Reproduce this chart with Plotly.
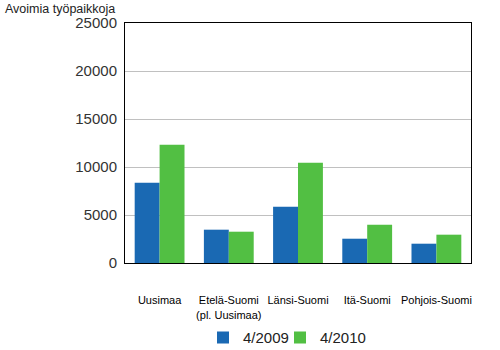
import plotly.graph_objects as go

categories = ["Uusimaa", "Etelä-Suomi<br>(pl. Uusimaa)", "Länsi-Suomi", "Itä-Suomi", "Pohjois-Suomi"]
series_2009 = [8370, 3470, 5870, 2530, 2010]
series_2010 = [12320, 3260, 10450, 3990, 2950]
y_ticks = [0, 5000, 10000, 15000, 20000, 25000]

FONT = "Liberation Sans, Arial, sans-serif"

fig = go.Figure()
fig.add_trace(go.Bar(name="4/2009", x=categories, y=series_2009, legend="legend",
                     marker=dict(color="#1a69b3", line=dict(width=0))))
fig.add_trace(go.Bar(name="4/2010", x=categories, y=series_2010, legend="legend2",
                     marker=dict(color="#52bf43", line=dict(width=0))))

leg_common = dict(orientation="h", xanchor="left", xref="container",
                  y=0.035, yanchor="middle", yref="container",
                  bgcolor="rgba(0,0,0,0)",
                  font=dict(size=15, family=FONT), itemwidth=30)

fig.update_layout(
    width=500, height=350,
    margin=dict(l=125, r=29, t=23, b=87, autoexpand=False),
    paper_bgcolor="white", plot_bgcolor="white",
    barmode="group", bargap=0.28, bargroupgap=0,
    font=dict(family=FONT, color="#222222"),
    showlegend=True,
    legend=dict(x=0.406, **leg_common),
    legend2=dict(x=0.56, **leg_common),
    annotations=[dict(text="Avoimia työpaikkoja", xref="paper", yref="paper",
                      x=-0.353, y=1.06, xanchor="left", yanchor="middle",
                      showarrow=False, font=dict(size=12.5, family=FONT, color="#222222"))],
)
fig.update_xaxes(showline=True, linecolor="black", linewidth=1, mirror=True,
                 ticks="", tickfont=dict(size=11, family=FONT, color="black"),
                 ticklabelstandoff=27, showgrid=False, automargin=False)
fig.update_yaxes(range=[0, 25000], tickvals=y_ticks, ticktext=[str(v) for v in y_ticks],
                 showline=True, linecolor="black", linewidth=1, mirror=True,
                 showgrid=True, gridcolor="#c0c0c0", gridwidth=1, zeroline=False,
                 ticks="", tickfont=dict(size=15, family=FONT, color="#333333"),
                 ticklabelstandoff=4, automargin=False)

fig.write_html("out.html")
